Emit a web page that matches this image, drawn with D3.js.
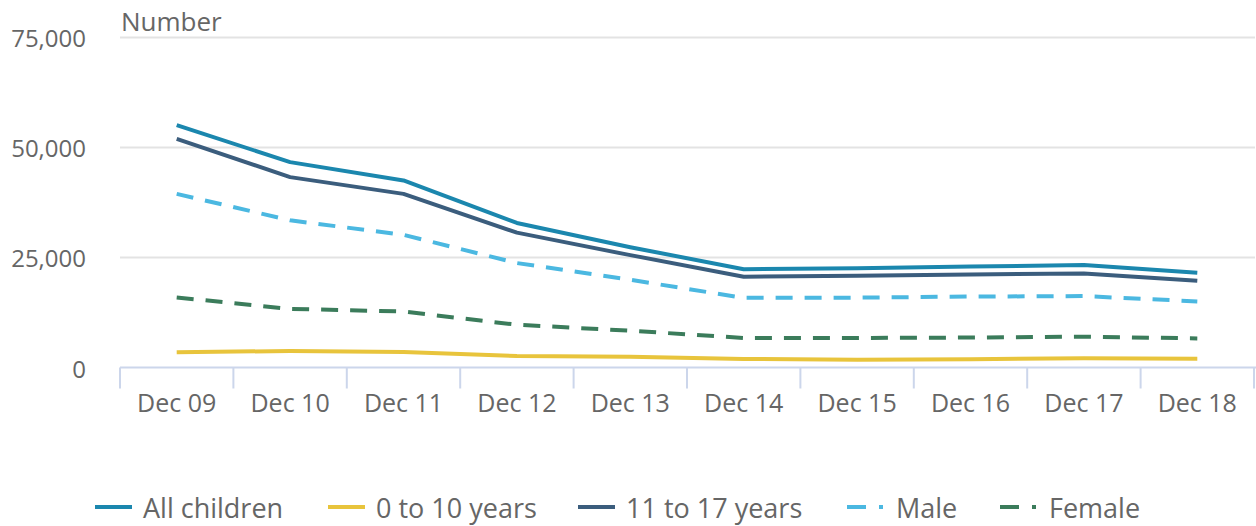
<!DOCTYPE html>
<html>
<head>
<meta charset="utf-8">
<script src="https://cdn.jsdelivr.net/npm/d3@7"></script>
<style>
  body { margin: 0; background: #fff; }
  text { font-family: "Open Sans", sans-serif; fill: #666; }
</style>
</head>
<body>
<div id="chart"></div>
<script>
var categories = ["Dec 09", "Dec 10", "Dec 11", "Dec 12", "Dec 13", "Dec 14", "Dec 15", "Dec 16", "Dec 17", "Dec 18"];
var allChildren = [55000, 46600, 42450, 32800, 27300, 22300, 22500, 22900, 23250, 21500];
var age0to10   = [3450, 3750, 3500, 2600, 2450, 1950, 1750, 1900, 2100, 2000];
var age11to17  = [51900, 43200, 39400, 30600, 25500, 20600, 20800, 21100, 21350, 19700];
var male       = [39400, 33400, 30100, 23700, 19900, 15800, 15850, 16100, 16200, 15000];
var female     = [15900, 13300, 12700, 9700, 8350, 6700, 6700, 6800, 7000, 6600];
var yTicks = [0, 25000, 50000, 75000];

var series = [
  { name: "All children",  values: allChildren, color: "#1b87ae", dash: null },
  { name: "0 to 10 years", values: age0to10,    color: "#e8c43c", dash: null },
  { name: "11 to 17 years",values: age11to17,   color: "#3b5d7d", dash: null },
  { name: "Male",          values: male,        color: "#4bb8e1", dash: "17,12" },
  { name: "Female",        values: female,      color: "#3b7c5b", dash: "17,12" }
];

function main() {
  var width = 1256, height = 526;
  var left = 120, right = 1254, top = 37, bottom = 367.5;

  var svg = d3.select("#chart")
    .append("svg")
    .attr("width", width)
    .attr("height", height);

  var x = d3.scaleBand().domain(categories).range([left, right]).padding(0);
  var y = d3.scaleLinear().domain([0, 75000]).range([bottom, top]);

  // gridlines
  svg.selectAll(".grid")
    .data(yTicks.filter(function(d){ return d > 0; }))
    .enter().append("line")
    .attr("x1", left).attr("x2", 1255)
    .attr("y1", function(d){ return Math.round(y(d)) + 0.5; })
    .attr("y2", function(d){ return Math.round(y(d)) + 0.5; })
    .attr("stroke", "#e3e3e3")
    .attr("stroke-width", 2);

  // y labels
  svg.selectAll(".ylab")
    .data(yTicks)
    .enter().append("text")
    .attr("x", 86)
    .attr("y", function(d){ return y(d) + 10; })
    .attr("text-anchor", "end")
    .style("font-size", "24px")
    .text(function(d){ return d3.format(",")(d); });

  svg.append("text")
    .attr("x", 121).attr("y", 31)
    .style("font-size", "26px")
    .text("Number");

  // x axis
  var xAxis = svg.append("g")
    .attr("transform", "translate(0," + bottom + ")")
    .call(d3.axisBottom(x).tickSize(0).tickPadding(0));
  xAxis.select(".domain").remove();
  xAxis.selectAll("text")
    .attr("y", 44)
    .attr("dy", 0)
    .style("font-size", "25px")
    .style("font-family", "'Open Sans', sans-serif")
    .attr("fill", "#666");

  svg.append("line")
    .attr("x1", left).attr("x2", 1256)
    .attr("y1", bottom).attr("y2", bottom)
    .attr("stroke", "#ccd6eb").attr("stroke-width", 2);

  var edges = categories.map(function(c){ return x(c); }).concat([x(categories[categories.length - 1]) + x.bandwidth()]);
  svg.selectAll(".xtick")
    .data(edges)
    .enter().append("line")
    .attr("x1", function(d){ return d; }).attr("x2", function(d){ return d; })
    .attr("y1", bottom).attr("y2", bottom + 21)
    .attr("stroke", "#ccd6eb").attr("stroke-width", 2);

  // lines
  var line = d3.line()
    .x(function(d, i){ return x(categories[i]) + x.bandwidth() / 2; })
    .y(function(d){ return y(d); });

  svg.selectAll(".series")
    .data(series.slice().reverse())
    .enter().append("path")
    .attr("d", function(s){ return line(s.values); })
    .attr("fill", "none")
    .attr("stroke", function(s){ return s.color; })
    .attr("stroke-width", 4)
    .attr("stroke-dasharray", function(s){ return s.dash; })
    .attr("stroke-linejoin", "round");

  // legend
  var legendX = [95, 328, 578, 847, 1000];
  var leg = svg.selectAll(".legend")
    .data(series)
    .enter().append("g")
    .attr("transform", function(d, i){ return "translate(" + legendX[i] + ",507)"; });

  leg.append("line")
    .attr("x1", 0).attr("x2", function(d){ return d.dash ? 36 : 37; })
    .attr("y1", 0).attr("y2", 0)
    .attr("stroke", function(d){ return d.color; })
    .attr("stroke-width", 4)
    .attr("stroke-dasharray", function(d){ return d.dash ? "19,13" : null; });

  leg.append("text")
    .attr("x", function(d){ return d.dash ? 49 : 48; })
    .attr("y", 11)
    .style("font-size", "27px")
    .text(function(d){ return d.name; });
}

main();
</script>
</body>
</html>
